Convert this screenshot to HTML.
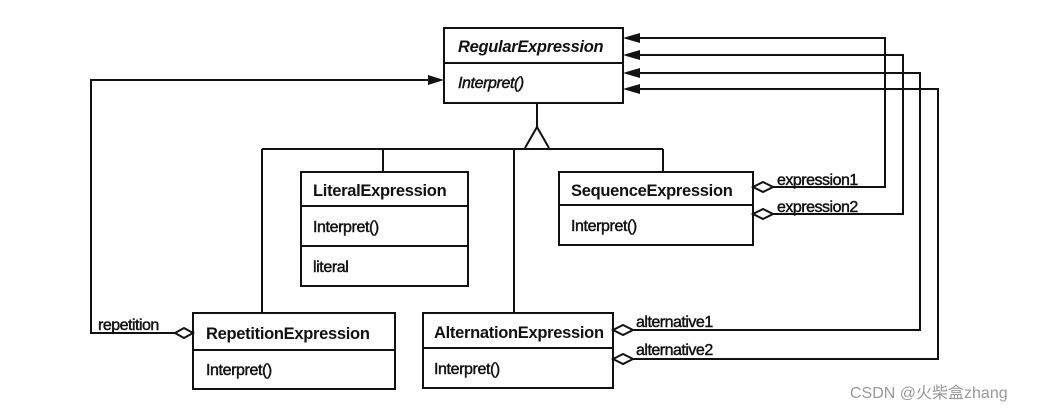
<!DOCTYPE html>
<html><head><meta charset="utf-8"><style>
html,body{margin:0;padding:0;background:#fff}
svg{display:block}
text{font-family:"Liberation Sans",Arial,sans-serif;fill:#111}
.b{font-weight:bold;font-size:16.5px;letter-spacing:-0.3px}
.n{font-size:16px;letter-spacing:-0.4px;stroke:#111;stroke-width:0.45px}
.l{font-size:16px;letter-spacing:-0.5px;stroke:#111;stroke-width:0.45px}
</style></head><body>
<svg width="1048" height="416" viewBox="0 0 1048 416" xmlns="http://www.w3.org/2000/svg">
<g fill="none" stroke="#111" stroke-width="2">
<rect x="444" y="28" width="179" height="75"/>
<line x1="444" y1="63" x2="623" y2="63"/>
<line x1="537" y1="103" x2="537" y2="127"/>
<polyline points="525,148 537,127 549,148"/>
<line x1="262" y1="149" x2="663" y2="149"/>
<line x1="262" y1="149" x2="262" y2="313"/>
<line x1="383" y1="149" x2="383" y2="172"/>
<line x1="514" y1="149" x2="514" y2="313"/>
<line x1="663" y1="149" x2="663" y2="172"/>
<rect x="301" y="172" width="167" height="114"/>
<line x1="301" y1="206" x2="468" y2="206"/>
<line x1="301" y1="246" x2="468" y2="246"/>
<rect x="559" y="172" width="194" height="73"/>
<line x1="559" y1="205" x2="753" y2="205"/>
<rect x="193" y="313" width="202" height="76"/>
<line x1="193" y1="350" x2="395" y2="350"/>
<rect x="423" y="313" width="190" height="75"/>
<line x1="423" y1="348" x2="613" y2="348"/>
<polyline points="773,187 885,187 885,38 638,38"/>
<polyline points="773,214 903,214 903,55 638,55"/>
<polyline points="633,330 920,330 920,73 638,73"/>
<polyline points="633,359 938,359 938,89 638,89"/>
<polyline points="175,333 91,333 91,80 430,80"/>
<polygon points="753,187 763,182 773,187 763,192" fill="#fff"/>
<polygon points="753,214 763,209 773,214 763,219" fill="#fff"/>
<polygon points="613,330 623,325 633,330 623,335" fill="#fff"/>
<polygon points="613,359 623,354 633,359 623,364" fill="#fff"/>
<polygon points="175,333 184,328 193,333 184,338" fill="#fff"/>
</g>
<g fill="#111">
<polygon points="623,38 640,33 640,43"/>
<polygon points="623,55 640,50 640,60"/>
<polygon points="623,73 640,68 640,78"/>
<polygon points="623,89 640,84 640,94"/>
<polygon points="444,80 428,75 428,85"/>
</g>
<text class="b" x="458" y="52" font-style="italic">RegularExpression</text>
<text class="n" x="458" y="88" font-style="italic">Interpret()</text>
<text class="b" x="313" y="196">LiteralExpression</text>
<text class="n" x="313" y="232">Interpret()</text>
<text class="n" x="313" y="272">literal</text>
<text class="b" x="571" y="196">SequenceExpression</text>
<text class="n" x="571" y="231">Interpret()</text>
<text class="b" x="206" y="339">RepetitionExpression</text>
<text class="n" x="206" y="375">Interpret()</text>
<text class="b" x="434" y="338">AlternationExpression</text>
<text class="n" x="434" y="374">Interpret()</text>
<text class="l" x="777" y="185">expression1</text>
<text class="l" x="777" y="212">expression2</text>
<text class="l" x="636" y="327">alternative1</text>
<text class="l" x="636" y="355">alternative2</text>
<text class="l" x="98" y="330">repetition</text>
<text x="850" y="398" style="font-family:'Liberation Sans','Noto Sans CJK SC',sans-serif;font-size:16px;fill:#999">CSDN @火柴盒zhang</text>
</svg>
</body></html>
